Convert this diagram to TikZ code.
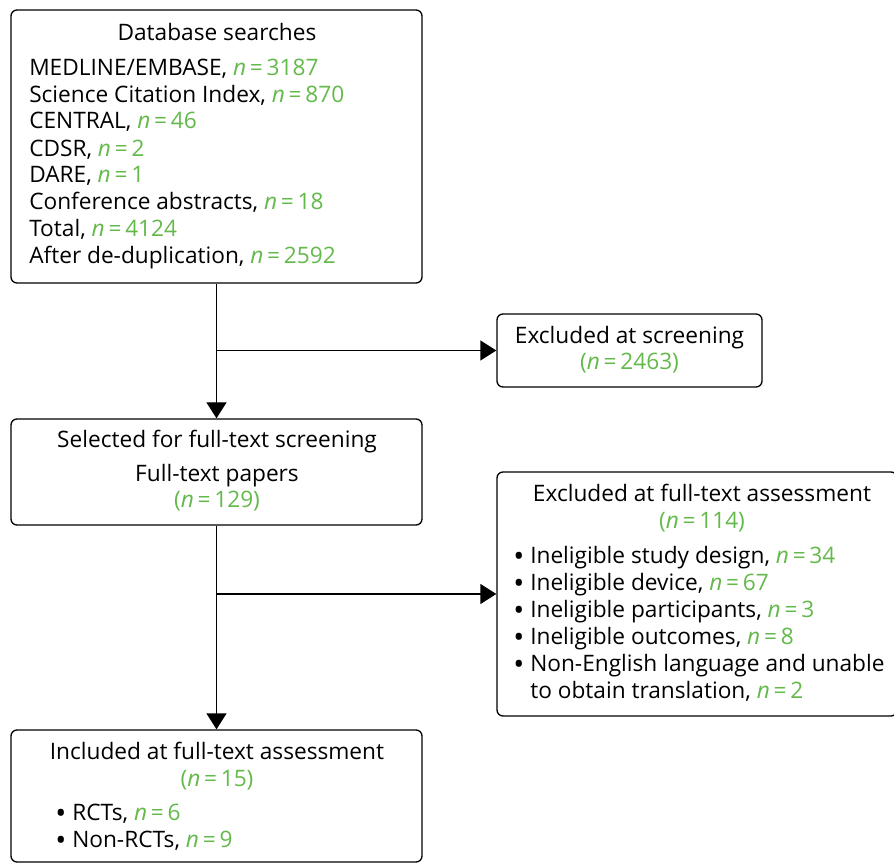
\documentclass[tikz,border=0pt]{standalone}
\usepackage{fontspec}
\setmainfont{Open Sans}
\usetikzlibrary{arrows.meta,positioning}

\definecolor{countgreen}{RGB}{100,185,75}
\newcommand{\cnt}[1]{\textcolor{countgreen}{\textit{n}\,=\,#1}}
\newcommand{\pcnt}[1]{\textcolor{countgreen}{(\textit{n}\,=\,#1)}}
\newcommand{\bul}{\makebox[12.75pt][l]{\raisebox{-2.5pt}{\fontsize{22}{20.25}\selectfont\textbullet}}}

\begin{document}
\begin{tikzpicture}[x=0.75pt,y=-0.75pt,
    box/.style={draw, line width=1pt, rounded corners=4.5pt, inner sep=0pt},
    txt/.style={inner sep=0pt, font=\fontsize{17}{20.25}\selectfont},
    arr/.style={-{Triangle[length=12pt,width=15pt]}, line width=1pt}]
\useasboundingbox (0,0) rectangle (894,863);

% boxes
\node[box, minimum width=308.25pt, minimum height=204.75pt] (search) at (216.5,146.5) {};
\node[box, minimum width=198.75pt, minimum height=54.75pt] (exscreen) at (629.5,350.5) {};
\node[box, minimum width=308.25pt, minimum height=79.5pt] (selected) at (216.5,472) {};
\node[box, minimum width=300pt, minimum height=183pt] (exfull) at (697,594) {};
\node[box, minimum width=308.25pt, minimum height=99pt] (included) at (216.5,796) {};

% database searches (base = last line)
\node[txt, anchor=base] (searchtitle) at (217,41) {Database searches};
\node[txt, anchor=base west, align=left] (searchlist) at (29,264) {%
    MEDLINE/EMBASE, \cnt{3187}\\
    Science Citation Index, \cnt{870}\\
    CENTRAL, \cnt{46}\\
    CDSR, \cnt{2}\\
    DARE, \cnt{1}\\
    Conference abstracts, \cnt{18}\\
    Total, \cnt{4124}\\
    After de-duplication, \cnt{2592}};

% excluded at screening
\node[txt, anchor=base, align=center] (exscreentext) at (629.5,370) {%
    Excluded at screening\\ \pcnt{2463}};

% selected for full text
\node[txt, anchor=base, align=center] (selectedtext) at (217,508) {%
    Selected for full-text screening\\[4.5pt]
    Full-text papers\\ \pcnt{129}};

% excluded at full text
\node[txt, anchor=base, align=center] (exfulltitle) at (702,528) {%
    Excluded at full-text assessment\\ \pcnt{114}};
\node[txt, anchor=base west, align=left] (exfulllist) at (513,698) {%
    \bul Ineligible study design, \cnt{34}\\
    \bul Ineligible device, \cnt{67}\\
    \bul Ineligible participants, \cnt{3}\\
    \bul Ineligible outcomes, \cnt{8}\\
    \bul Non-English language and unable\\
    \hspace*{12.75pt}to obtain translation, \cnt{2}};

% included
\node[txt, anchor=base, align=center] (includedtitle) at (217,786) {%
    Included at full-text assessment\\ \pcnt{15}};
\node[txt, anchor=base west, align=left] (includedlist) at (55,847) {%
    \bul RCTs, \cnt{6}\\
    \bul Non-RCTs, \cnt{9}};

% flow
\draw[arr] (search.south) -- (selected.north);
\draw[arr] (search.south |- exscreen.west) -- (exscreen.west);
\draw[arr] (selected.south) -- (included.north);
\draw[arr] (selected.south |- exfull.west) -- (exfull.west);

\end{tikzpicture}
\end{document}
